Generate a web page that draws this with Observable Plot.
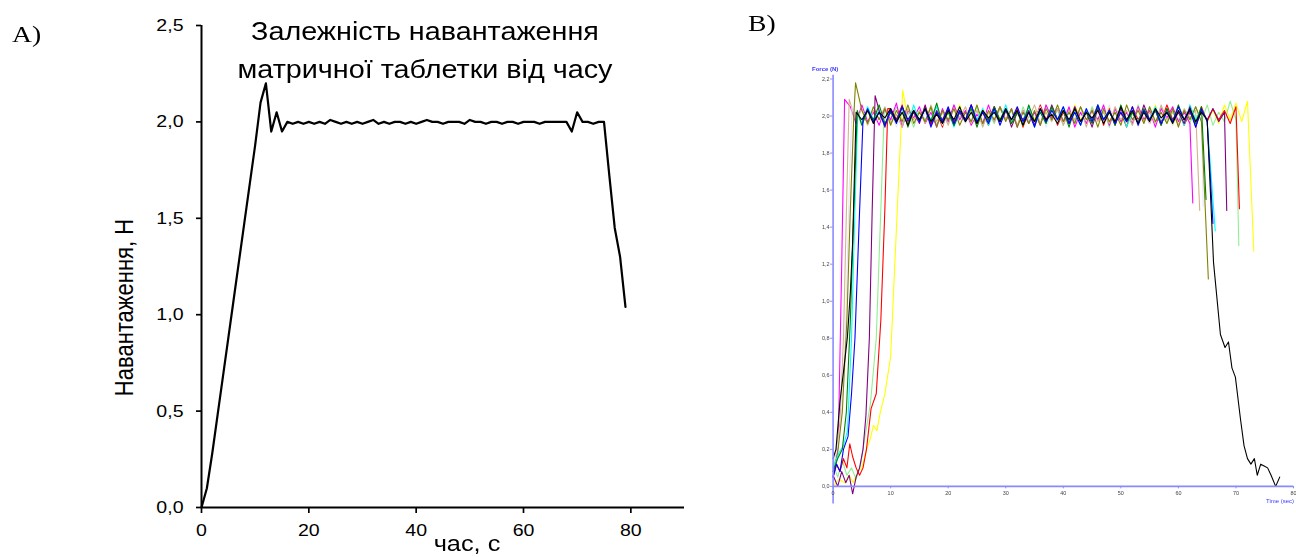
<!DOCTYPE html>
<html>
<head>
<meta charset="utf-8">
<script src="https://cdn.jsdelivr.net/npm/d3@7"></script>
<script src="https://cdn.jsdelivr.net/npm/@observablehq/plot@0.6"></script>
<style>
  html, body { margin: 0; padding: 0; background: #fff; }
  #page { position: relative; width: 1296px; height: 557px; overflow: hidden; background: #fff; }
  .abs { position: absolute; white-space: nowrap; }
  .sans { font-family: "Liberation Sans", Arial, sans-serif; color: #000; }
  .serif { font-family: "Liberation Serif", "Times New Roman", serif; color: #000; }
  .wide { transform: scaleX(1.15); }
</style>
</head>
<body>
<div id="page">
  <div id="chartA" class="abs" style="left:0;top:0;"></div>
  <div id="chartB" class="abs" style="left:780px;top:50px;filter:blur(0.5px);"></div>

  <div class="abs serif wide" style="left:12px;top:22px;font-size:24px;line-height:24px;transform-origin:left center;">A)</div>
  <div class="abs serif wide" style="left:748px;top:11px;font-size:24px;line-height:24px;transform-origin:left center;">B)</div>

  <div class="abs sans wide" style="left:175px;top:12px;width:500px;text-align:center;font-size:25px;line-height:38px;transform-origin:center;">Залежність навантаження<br>матричної таблетки від часу</div>
  <div class="abs sans" style="left:-6.5px;top:295.5px;width:260px;text-align:center;font-size:22px;line-height:23px;transform:scaleX(1.15) rotate(-90deg);transform-origin:center;">Навантаження, Н</div>
  <div class="abs sans wide" style="left:367px;top:533px;width:200px;text-align:center;font-size:22px;line-height:22px;transform-origin:center;">час, с</div>

  <div class="abs sans" style="left:812px;top:66px;font-size:6px;line-height:6px;font-weight:bold;color:#3a3aff;filter:blur(0.4px);">Force (N)</div>
  <div class="abs sans" style="left:1266px;top:498px;font-size:6px;line-height:6px;color:#3a3aff;filter:blur(0.4px);">Time (sec)</div>
</div>
<script>
// ---------- Panel A data ----------
const timeA = [0,1,2,3,4,5,6,7,8,9,10,11,12,13,14,15,16,17,18,19,20,21,22,23,24,25,26,27,28,29,30,31,32,33,34,35,36,37,38,39,40,41,42,43,44,45,46,47,48,49,50,51,52,53,54,55,56,57,58,59,60,61,62,63,64,65,66,67,68,69,70,71,72,73,74,75,76,77,78,79];
const loadA = [0,0.10,0.28,0.48,0.68,0.88,1.08,1.28,1.48,1.68,1.88,2.10,2.20,1.95,2.05,1.95,2.00,1.99,2.00,1.99,2.00,1.99,2.00,1.99,2.01,2.00,1.99,2.00,1.99,2.00,1.99,2.00,2.01,1.99,2.00,1.99,2.00,2.00,1.99,2.00,1.99,2.00,2.01,2.00,2.00,1.99,2.00,2.00,2.00,1.99,2.01,2.00,2.00,1.99,2.00,2.00,1.99,2.00,2.00,1.99,2.00,2.00,2.00,1.99,2.00,2.00,2.00,2.00,2.00,1.95,2.05,2.00,2.00,1.99,2.00,2.00,1.72,1.45,1.30,1.04];
const xTicksA = [0,20,40,60,80];
const yTicksA = [0,0.5,1,1.5,2,2.5];

// ---------- Panel B data ----------
const seriesNames = ["yellow","lightgreen","red","magenta","tan","lavender","olive","cyan","purple","green","blue","black"];
const seriesColors = ["#ffee22","#66dd77","#ff3b3b","#ff44ee","#c8a47a","#a0a0d8","#b8b860","#33ccee","#a060d0","#1fa040","#2244ff","#222222"];

const yellowRise = [[0,0.0],[1,0.04],[2,0.02],[2.8,0.06],[3.5,0.02],[4.3,0.08],[5,0.1],[5.8,0.2],[6.5,0.26],[7,0.33],[7.6,0.3],[8.2,0.4],[9,0.5],[10,0.7],[10.9,1.32],[12.1,2.14]];
const lightgreenRise = [[0,0.12],[0.8,0.05],[1.6,0.14],[2.4,0.06],[3.2,0.1],[4,0.04],[4.8,0.12],[5.6,0.28],[6.5,0.45],[7.5,0.8],[8.3,1.5],[8.9,2.04]];
const redRise = [[0,0.05],[0.6,0.12],[1.2,0.08],[1.8,0.15],[2.4,0.1],[2.9,0.23],[3.4,0.16],[4,0.1],[4.6,0.06],[5.2,0.1],[5.8,0.2],[6.6,0.42],[7.5,0.5],[8.3,0.9],[9,1.5],[9.5,2.04]];
const magentaRise = [[0,0.05],[0.5,0.12],[0.9,0.24],[1.5,1.2],[2.0,2.09]];
const tanRise = [[0,0.1],[0.6,0.2],[1.2,0.35],[1.8,0.8],[2.4,1.6],[2.8,2.09]];
const lavenderRise = [[0,0.12],[0.7,0.2],[1.4,0.35],[2.2,0.9],[2.8,1.6],[3.3,2.05]];
const oliveRise = [[0,0.08],[0.8,0.18],[1.6,0.4],[2.4,0.9],[3.0,1.5],[3.6,2.0],[3.9,2.18]];
const cyanRise = [[0,0.1],[1,0.18],[1.8,0.22],[2.5,0.3],[3.2,0.8],[3.8,1.5],[4.3,2.02]];
const purpleRise = [[0,0.06],[0.8,0.0],[1.5,0.08],[2.2,0.02],[2.8,0.06],[3.4,-0.04],[4,0.05],[4.6,0.1],[5.2,0.2],[5.7,0.38],[6.3,0.8],[6.8,1.5],[7.3,2.11]];
const greenRise = [[0,0.08],[0.8,0.15],[1.6,0.2],[2.3,0.4],[3.0,0.9],[3.6,1.5],[4.2,2.03]];
const blueRise = [[0,0.05],[0.6,0.12],[1.2,0.08],[1.8,0.2],[2.6,0.27],[3.2,0.5],[3.8,0.8],[4.5,1.4],[5.2,1.98]];
const blackRise = [[0,0.15],[0.5,0.2],[1.2,0.46],[1.96,0.66],[2.5,0.81],[3.0,1.05],[3.4,1.32],[4.0,2.02]];

// plateau start times (s) and plateau readings (hundredths of N around 2,0), one reading per second
const plateauStart = [13,10,10,3,4,4,5,5,8,5,6,5];
const yellowPlateau = [-2,4,-3,5,-4,2,-5,3,-2,6,-3,4,-2,3,-5,5,-3,2,-4,4,-6,3,-2,5,-3,4,-4,2,-3,6,-2,3,-5,4,-2,5,-3,3,-6,2,-3,4,-2,6,-4,3,-5,2,-3,4,-2,5,-3,3,-4,6,-2,7,-3,8];
const lightgreenPlateau = [-3,5,-4,2,-6,3,-2,4,-5,3,-4,6,-2,3,-3,5,-5,2,-4,4,-2,3,-6,5,-3,2,-4,6,-2,3,-5,4,-3,2,-4,5,-2,3,-6,4,-3,2,-5,6,-2,4,-3,5,-4,2,-2,3,-4,5,-3,6,-5,2,-3,8,-2];
const redPlateau = [4,-2,6,-5,3,-3,5,-4,2,-6,4,-3,3,-2,6,-4,2,-5,5,-3,3,-2,4,-6,3,-3,6,-2,4,-5,2,-4,5,-3,3,-2,6,-5,4,-3,2,-6,5,-2,3,-4,4,-3,6,-2,3,-5,2,-4,5,-3,4,-2,3,-4,5];
const magentaPlateau = [5,-4,6,-3,2,-5,4,-2,7,-6,3,-1,5,-4,2,-6,4,-3,6,-2,3,-5,1,-4,6,-3,5,-2,4,-6,3,-4,2,-5,6,-1,4,-3,5,-6,2,-4,3,-2,6,-5,4,-3,2,-4,5,-2,3,-6,4,-1,5,-3,2,-4];
const tanPlateau = [-3,4,-5,3,-2,5,-4,1,-6,4,-2,3,-4,6,-3,2,-5,4,-1,5,-4,3,-6,2,-3,5,-2,4,-5,3,-1,6,-4,2,-3,4,-5,3,-2,5,-6,4,-3,2,-4,5,-2,3,-5,4,-3,2,-4,6,-2,3,-5,4,-1,3];
const lavenderPlateau = [2,-5,3,-4,5,-2,4,-6,3,-3,5,-4,2,-3,6,-5,3,-2,4,-4,2,-6,5,-3,3,-4,6,-2,2,-5,4,-3,5,-6,2,-4,3,-2,5,-3,4,-5,2,-3,6,-4,3,-2,4,-6,3,-4,5,-2,2,-5,4,-3,6,-2,3];
const olivePlateau = [3,-4,5,-2,4,-5,3,-3,6,-4,2,-3,5,-6,3,-2,4,-5,2,-3,6,-4,3,-2,5,-3,4,-6,2,-4,3,-5,4,-2,6,-3,2,-4,5,-2,3,-6,4,-3,2,-5,6,-2,3,-4,5,-3,2,-4,4,-6,3,-2,5,-3];
const cyanPlateau = [-4,5,-2,3,-6,4,-3,2,-5,6,-3,4,-2,5,-4,3,-6,2,-3,5,-2,4,-5,3,-3,6,-4,2,-2,5,-6,3,-4,4,-2,5,-3,2,-5,4,-3,6,-2,3,-4,5,-6,2,-3,4,-2,5,-4,3,-3,2,-5,6,-2,4,-3];
const purplePlateau = [3,-6,4,-2,5,-3,2,-4,6,-5,3,-2,4,-5,2,-3,6,-4,3,-2,5,-3,4,-6,2,-2,3,-5,4,-3,6,-2,3,-4,5,-3,2,-6,4,-2,3,-5,4,-3,2,-4,6,-2,3,-5,4,-3,2,-4,5,-6,3,-2,4,-3,2];
const greenPlateau = [-5,3,-2,6,-4,2,-3,5,-6,3,-2,4,-3,7,-4,2,-5,3,-2,4,-6,3,-3,5,-2,4,-4,2,-5,6,-3,2,-4,5,-2,3,-6,4,-3,2,-4,5,-2,3,-5,6,-3,2,-4,4,-2,3,-5,4,-3,6,-2,3,-4,5];
const bluePlateau = [4,-3,2,-5,3,-4,5,-2,3,-3,4,-6,2,-3,5,-4,3,-2,6,-3,2,-4,4,-5,3,-2,5,-3,2,-6,4,-3,3,-2,5,-4,2,-5,4,-3,6,-2,3,-4,2,-3,5,-5,3,-2,4,-4,2,-3,5,-2,3,-6,4,-3];
const blackPlateau = [-2,3,-4,2,-1,4,-3,2,-5,3,-2,4,-3,1,-4,3,-2,5,-3,2,-4,3,-1,2,-3,4,-2,3,-5,2,-3,4,-2,1,-4,3,-2,4,-3,2,-1,3,-4,2,-3,5,-2,3,-4,2,-3,4,-1,2,-4,3,-2,4,-3,2,-2];

const yellowFall = [[73.1,1.27]];
const lightgreenFall = [[70.5,1.30]];
const redFall = [[70.6,1.50]];
const magentaFall = [[62.5,1.53]];
const tanFall = [[63.7,1.49]];
const lavenderFall = [[64.3,1.51]];
const oliveFall = [[65.2,1.12]];
const cyanFall = [[66.4,1.38]];
const purpleFall = [[68.4,1.49]];
const greenFall = [[64.8,1.55]];
const blueFall = [[66.0,1.42]];
const blackFall = [[66.1,1.21],[67.3,0.82],[68.1,0.75],[68.7,0.78],[69.3,0.64],[69.9,0.59],[70.8,0.36],[71.4,0.22],[72.0,0.15],[72.6,0.12],[73.2,0.15],[73.7,0.06],[74.3,0.12],[74.9,0.11],[75.5,0.10],[76.1,0.06],[76.9,0.0],[77.6,0.05]];

const xTicksB = [0,10,20,30,40,50,60,70,80];
const yTicksB = [0,0.2,0.4,0.6,0.8,1.0,1.2,1.4,1.6,1.8,2.0,2.2];

// ---------- build tables ----------
const dataA = timeA.map((t, i) => ({t, v: loadA[i]}));

const rises = [yellowRise, lightgreenRise, redRise, magentaRise, tanRise, lavenderRise, oliveRise, cyanRise, purpleRise, greenRise, blueRise, blackRise];
const plateaus = [yellowPlateau, lightgreenPlateau, redPlateau, magentaPlateau, tanPlateau, lavenderPlateau, olivePlateau, cyanPlateau, purplePlateau, greenPlateau, bluePlateau, blackPlateau];
const falls = [yellowFall, lightgreenFall, redFall, magentaFall, tanFall, lavenderFall, oliveFall, cyanFall, purpleFall, greenFall, blueFall, blackFall];

const dataB = seriesNames.flatMap((s, i) => [
  ...rises[i].map(([t, y]) => ({s, t, y})),
  ...plateaus[i].map((d, k) => ({s, t: plateauStart[i] + k, y: 2 + d / 100})),
  ...falls[i].map(([t, y]) => ({s, t, y}))
]);

const comma = d => d.toFixed(1).replace(".", ",");
const axisBlue = "#8a8aff";

// ---------- Panel A ----------
const chartA = Plot.plot({
  width: 700, height: 557,
  marginLeft: 201, marginRight: 16, marginTop: 25, marginBottom: 50,
  style: {fontFamily: "'Liberation Sans', Arial, sans-serif", fontSize: "17px", color: "#000", background: "transparent", overflow: "visible"},
  x: {domain: [0, 90]},
  y: {domain: [0, 2.5]},
  marks: [
    Plot.axisX({ticks: xTicksA, tickFormat: d => String(d), tickSize: 6, tickPadding: 10, label: null, strokeWidth: 1.7, fontSize: 17}),
    Plot.axisY({ticks: yTicksA, tickFormat: comma, tickSize: 5, tickPadding: 13, label: null, strokeWidth: 1.7, fontSize: 17}),
    Plot.ruleX([0], {strokeWidth: 2}),
    Plot.ruleY([0], {strokeWidth: 2}),
    Plot.line(dataA, {x: "t", y: "v", stroke: "#000", strokeWidth: 2.2})
  ]
});
// the source figure is stretched horizontally: widen tick label glyphs around their anchors
chartA.querySelectorAll("g[aria-label$='tick label'] text").forEach(t => {
  t.setAttribute("transform", (t.getAttribute("transform") || "") + " scale(1.15,1)");
});
document.getElementById("chartA").appendChild(chartA);

// ---------- Panel B ----------
const chartB = Plot.plot({
  width: 520, height: 470,
  marginLeft: 53, marginRight: 3, marginTop: 25, marginBottom: 13,
  style: {fontFamily: "'Liberation Sans', Arial, sans-serif", fontSize: "5.5px", background: "transparent", overflow: "visible"},
  x: {domain: [0, 80], axis: null},
  y: {domain: [-0.095, 2.22], axis: null},
  color: {domain: seriesNames, range: seriesColors},
  marks: [
    Plot.line(dataB, {x: "t", y: "y", z: "s", stroke: "s", strokeWidth: 1.1}),
    Plot.ruleX([0], {stroke: axisBlue, strokeWidth: 1.6}),
    Plot.ruleY([0], {stroke: axisBlue, strokeWidth: 1.6}),
    Plot.axisY({ticks: yTicksB, tickFormat: comma, tickSize: 2.5, tickPadding: 1, stroke: axisBlue, fill: "#444", label: null, fontSize: 5.5}),
    Plot.ruleX(xTicksB, {x: d => d, y1: 0, y2: 0, insetBottom: -2.5, stroke: axisBlue}),
    Plot.text(xTicksB, {x: d => d, y: 0, dy: 7, text: d => String(d), fill: "#444", fontSize: 5.5})
  ]
});
document.getElementById("chartB").appendChild(chartB);
</script>
</body>
</html>
